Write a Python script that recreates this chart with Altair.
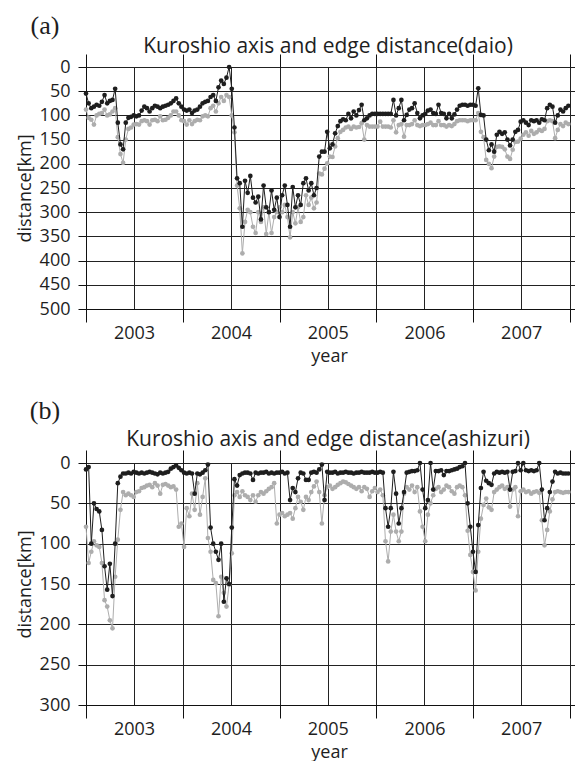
import altair as alt
import pandas as pd

# 10-day sampling, 2003-01-01 .. 2007-12-26
DATES = pd.date_range("2003-01-01", periods=183, freq="10D")

# (a) daio: black = edge distance, gray = axis distance (km)
DAIO_EDGE = [
    55, 75, 85, 82, 78, 80, 72, 58, 75, 70,
    68, 45, 115, 160, 170, 115, 105, 103, 100, 102,
    100, 90, 82, 85, 92, 85, 80, 82, 85, 82,
    80, 78, 75, 70, 65, 75, 82, 88, 90, 88,
    95, 90, 88, 82, 75, 72, 70, 62, 58, 70,
    42, 28, 35, 22, 0, 45, 125, 230, 240, 330,
    235, 260, 225, 270, 280, 268, 315, 245, 290, 300,
    255, 295, 270, 310, 265, 245, 285, 330, 248, 290,
    265, 285, 240, 230, 255, 240, 265, 250, 185, 175,
    175, 134, 168, 160, 137, 122, 112, 108, 110, 97,
    106, 92, 100, 89, 78, 110, 106, 100, 97, 97,
    97, 97, 97, 97, 97, 97, 68, 100, 85, 68,
    110, 99, 88, 85, 75, 95, 106, 100, 97, 90,
    88, 95, 97, 78, 95, 97, 106, 97, 106, 98,
    88, 80, 78, 78, 80, 78, 78, 80, 44, 99,
    100, 150, 172, 160, 175, 140, 134, 138, 135, 150,
    162, 150, 134, 130, 113, 110, 115, 120, 110, 112,
    110, 115, 108, 110, 85, 78, 82, 115, 100, 88,
    92, 85, 80,
]
DAIO_AXIS = [
    88, 105, 109, 119, 100, 97, 95, 88, 100, 98,
    92, 85, 145, 180, 198, 150, 128, 125, 119, 118,
    119, 112, 110, 112, 119, 110, 109, 112, 102, 110,
    109, 105, 100, 92, 92, 100, 110, 112, 119, 110,
    118, 112, 109, 110, 102, 100, 102, 85, 80, 92,
    75, 62, 70, 58, 62, 100, 135, 245, 292, 385,
    320, 295, 300, 330, 343, 300, 320, 290, 345, 300,
    343, 310, 300, 290, 300, 285, 310, 352, 300, 323,
    290, 320, 310, 265, 285, 270, 292, 280, 220, 222,
    210, 199, 185, 186, 164, 147, 134, 130, 125, 123,
    128, 123, 125, 124, 116, 150, 120, 123, 123, 123,
    123, 113, 123, 123, 123, 125, 110, 135, 120, 118,
    144, 120, 120, 118, 110, 120, 122, 120, 120, 118,
    115, 120, 120, 112, 120, 120, 123, 120, 122, 118,
    112, 110, 110, 110, 112, 110, 110, 110, 95, 134,
    145, 192, 200, 209, 185, 165, 164, 165, 170, 185,
    190, 171, 155, 154, 148, 140, 135, 142, 132, 138,
    135, 130, 132, 128, 112, 110, 112, 147, 130, 118,
    122, 115, 118,
]

# (b) ashizuri
ASHI_EDGE = [
    8, 5, 100, 50, 57, 60, 83, 128, 157, 125,
    165, 100, 25, 17, 13, 13, 12, 13, 11, 12,
    13, 12, 13, 12, 11, 12, 13, 14, 12, 13,
    12, 11, 7, 5, 3, 6, 9, 12, 13, 12,
    13, 38, 13, 14, 12, 9, 2, 80, 100, 110,
    120, 100, 172, 143, 150, 80, 20, 28, 15, 13,
    12, 12, 13, 21, 12, 13, 12, 12, 11, 13,
    12, 13, 12, 12, 11, 13, 12, 46, 31, 36,
    19, 12, 13, 21, 21, 12, 11, 12, 8, 2,
    46, 11, 12, 12, 11, 13, 12, 12, 11, 12,
    12, 13, 12, 12, 11, 12, 12, 12, 11, 12,
    12, 11, 12, 56, 79, 56, 11, 38, 75, 56,
    36, 12, 11, 10, 10, 9, 0, 33, 56, 46,
    0, 33, 10, 10, 9, 15, 10, 10, 9, 8,
    7, 5, 4, 0, 50, 79, 110, 135, 77, 31,
    11, 22, 25, 27, 13, 11, 12, 11, 12, 11,
    33, 11, 10, 0, 9, 0, 9, 10, 9, 10,
    9, 0, 33, 71, 56, 36, 23, 11, 13, 12,
    13, 13, 13,
]
ASHI_AXIS = [
    79, 124, 110, 97, 102, 104, 124, 170, 178, 195,
    205, 141, 95, 58, 36, 40, 38, 40, 42, 36,
    35, 31, 30, 28, 27, 30, 25, 28, 38, 27,
    26, 28, 30, 29, 33, 79, 75, 104, 56, 66,
    38, 58, 25, 64, 42, 19, 93, 110, 145, 149,
    190, 141, 161, 178, 151, 112, 40, 36, 42, 35,
    40, 42, 46, 40, 48, 40, 36, 38, 35, 32,
    30, 25, 75, 64, 62, 66, 64, 62, 69, 56,
    42, 48, 58, 42, 46, 36, 29, 23, 36, 75,
    40, 30, 28, 32, 30, 27, 25, 23, 24, 26,
    28, 30, 32, 30, 35, 30, 32, 42, 35, 31,
    36, 33, 40, 97, 122, 85, 64, 85, 97, 85,
    38, 30, 33, 28, 36, 30, 60, 79, 97, 64,
    50, 40, 32, 30, 36, 33, 28, 30, 35, 38,
    30, 28, 30, 40, 84, 114, 135, 158, 110, 69,
    52, 44, 55, 58, 36, 33, 30, 28, 32, 30,
    54, 33, 30, 66, 35, 33, 36, 35, 38, 36,
    35, 37, 71, 102, 83, 60, 45, 36, 35, 36,
    37, 36, 36,
]

TITLE_A = "Kuroshio axis and edge distance(daio)"
TITLE_B = "Kuroshio axis and edge distance(ashizuri)"

FONT = "Open Sans"
BLACK = "#1e1e1e"
GRAY = "#adadad"
W, H = 489, 242

X_DOMAIN = [alt.DateTime(year=2003, month=1, date=1),
            alt.DateTime(year=2008, month=1, date=20)]
X_TICKS = [alt.DateTime(year=y, month=m, date=1)
           for y in range(2003, 2009) for m in (1, 7)
           if not (y == 2008 and m == 7)]
TICK_COND = {"condition": {"test": "month(datum.value) == 0", "value": 1}, "value": 0}
LABEL_EXPR = "month(datum.value) == 6 ? timeFormat(datum.value, '%Y') : ''"


def panel(edge, axis, ymax, title, tag, title_y, tag_y):
    df = pd.DataFrame({"date": DATES, "edge": edge, "axis": axis})
    base = alt.Chart(df)
    xs = alt.Scale(domain=X_DOMAIN)
    ys = alt.Scale(domain=[0, ymax], reverse=True, nice=False, zero=True)
    x_bottom = alt.X("date:T", scale=xs, title="year", axis=alt.Axis(
        values=X_TICKS, labelExpr=LABEL_EXPR, tickOpacity=TICK_COND,
        tickSize=13, grid=True, labelOverlap=False, labelFlush=False,
        labelPadding=2, titlePadding=5, labelAngle=0, titleX=243))
    x_top = alt.X("date:T", scale=xs, axis=alt.Axis(
        orient="top", values=X_TICKS, labels=False, grid=False, domain=False,
        tickSize=13, tickOpacity=TICK_COND, title=None))
    x_none = alt.X("date:T", scale=xs, axis=None)
    y_axis_def = alt.Axis(values=list(range(0, ymax + 1, 50)), grid=True,
                          tickSize=8, labelPadding=8, titlePadding=5)
    y_ax = alt.Y("axis:Q", scale=ys, title="distance[km]", axis=y_axis_def)
    y_edge = alt.Y("edge:Q", scale=ys, title="distance[km]", axis=y_axis_def)

    gray_line = base.mark_line(color=GRAY, strokeWidth=1).encode(x=x_bottom, y=y_ax)
    gray_pts = base.mark_circle(color=GRAY, size=22, opacity=1).encode(x=x_none, y=y_ax)
    black_line = base.mark_line(color=BLACK, strokeWidth=1).encode(x=x_none, y=y_edge)
    black_pts = base.mark_circle(color=BLACK, size=22, opacity=1).encode(x=x_top, y=y_edge)
    texts = alt.Chart(pd.DataFrame({"t": [tag], "title": [title]}))
    tag_text = texts.mark_text(
        font="Liberation Serif", fontSize=26, align="center", baseline="middle",
        color=BLACK).encode(x=alt.value(-41), y=alt.value(tag_y), text="t:N")
    title_text = texts.mark_text(
        font=FONT, fontSize=21, align="center", baseline="alphabetic",
        color=BLACK).encode(x=alt.value(242), y=alt.value(title_y), text="title:N")

    return alt.layer(gray_line, gray_pts, black_line, black_pts, tag_text,
                     title_text).resolve_axis(x="independent").properties(
        width=W, height=H)


chart = alt.vconcat(
    panel(DAIO_EDGE, DAIO_AXIS, 500, TITLE_A, "(a)", -14, -41),
    panel(ASHI_EDGE, ASHI_AXIS, 300, TITLE_B, "(b)", -17, -52),
    spacing=33,
).properties(
    padding={"left": 8, "top": 5, "right": 0, "bottom": 0}
).configure_view(strokeWidth=0).configure_axis(
    labelFont=FONT, titleFont=FONT, labelFontSize=18, titleFontSize=18,
    labelColor=BLACK, titleColor=BLACK, titleFontWeight="normal",
    gridColor="#222222", gridOpacity=1, gridWidth=1,
    domainColor="#111111", domainWidth=1, tickColor="#111111", tickWidth=1,
)

chart.save("out.html", embed_options={"renderer": "svg", "actions": False})
